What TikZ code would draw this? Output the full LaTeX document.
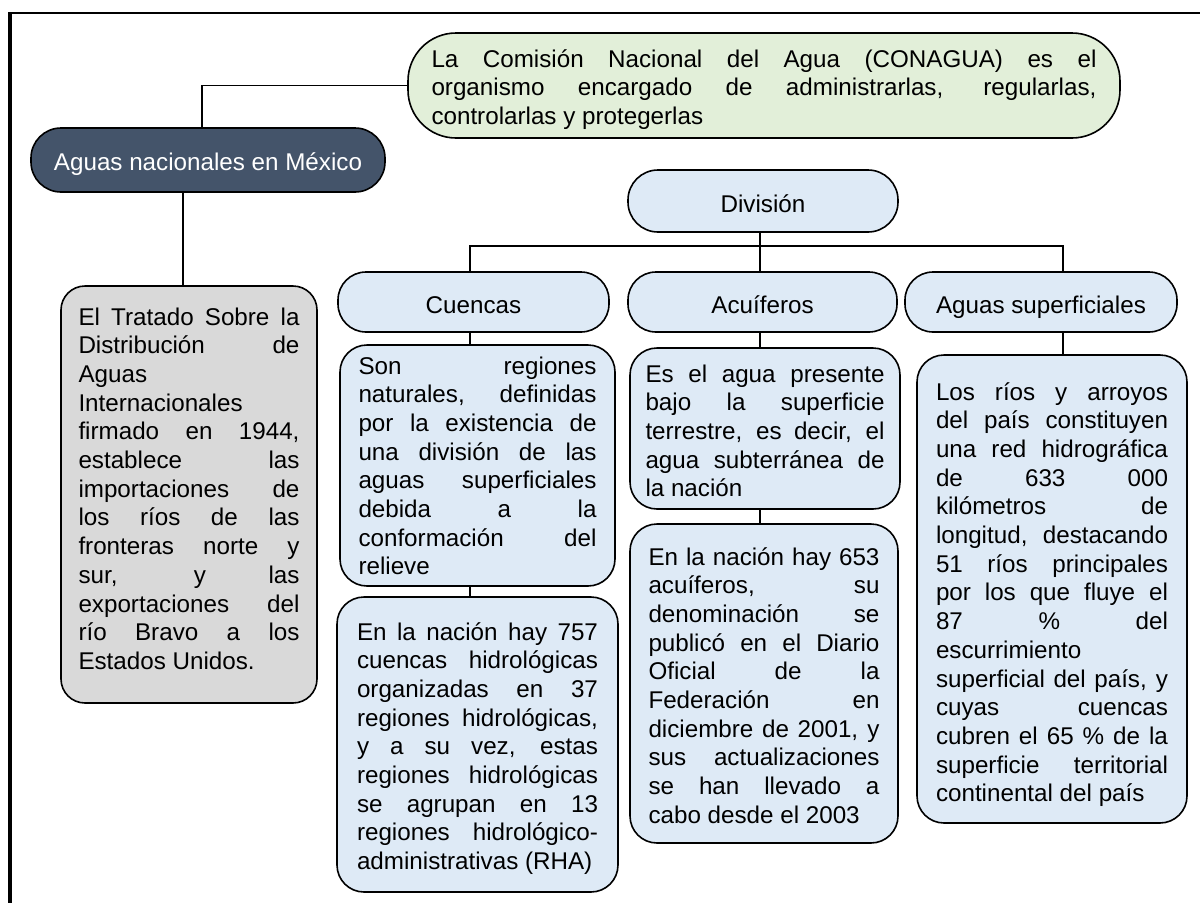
\documentclass[tikz,border=0pt]{standalone}
\usepackage{fontspec}
\setmainfont{Liberation Sans}
\definecolor{slate}{HTML}{44546A}
\definecolor{mint}{HTML}{E2EFD9}
\definecolor{sky}{HTML}{DEEAF6}
\definecolor{stone}{HTML}{D9D9D9}
\tolerance=10000
\hbadness=10000
\hyphenpenalty=10000

\begin{document}
\begin{tikzpicture}[x=1pt,y=-1pt,
        pill/.style={draw,line width=1.6pt,fill=sky,rounded corners=28pt,inner sep=0pt,minimum height=60pt,text height=22pt,text depth=0pt,font={\fontsize{24.2}{28.7}\selectfont}},
        card/.style={draw,line width=1.6pt,fill=sky,rounded corners=27pt,inner sep=0pt,align=justify,font={\fontsize{24.2}{28.7}\selectfont}},
        edge/.style={line width=1.6pt}
    ]
        \useasboundingbox (0,0) rectangle (1200,903);

        % Frame
        \draw[line width=3.5pt] (9.75,12) -- (9.75,903);
        \draw[line width=2pt] (8,13) -- (1200,13);

        % Define the nodes
        \node[card,fill=mint,rounded corners=48pt,minimum width=712pt,minimum height=105pt,text width=665pt,text height=25pt,text depth=62pt] (conagua) at (764,85.5) {La Comisión Nacional del Agua (CONAGUA) es el\linebreak organismo encargado de administrarlas, regularlas,\linebreak controlarlas y protegerlas};
        \node[pill,fill=slate,text=white,rounded corners=30pt,minimum width=354pt,minimum height=64pt,text height=20pt] (aguas) at (208,160) {Aguas nacionales en México};
        \node[card,fill=stone,rounded corners=24pt,minimum width=256pt,minimum height=417pt,text width=221pt,text height=5.4pt,text depth=344.4pt] (tratado) at (189,494.5) {El Tratado Sobre la\linebreak Distribución de\linebreak Aguas\linebreak Internacionales\linebreak firmado en 1944,\linebreak establece las\linebreak importaciones de\linebreak los ríos de las\linebreak fronteras norte y\linebreak sur, y las\linebreak exportaciones del\linebreak río Bravo a los\linebreak Estados Unidos.};

        \node[pill,rounded corners=30pt,minimum width=270pt,minimum height=62pt] (division) at (763,201) {División};
        \node[pill,minimum width=271pt] (cuencas) at (473.5,302) {Cuencas};
        \node[pill,minimum width=269pt] (acuiferos) at (762.5,302) {Acuíferos};
        \node[pill,minimum width=272pt] (superficiales) at (1041,302) {Aguas superficiales};

        \node[card,minimum width=275pt,minimum height=241pt,text width=238pt,text height=17.9pt,text depth=200.9pt] (cuencasA) at (477.5,465.5) {Son regiones\linebreak naturales, definidas\linebreak por la existencia de\linebreak una división de las\linebreak aguas superficiales\linebreak debida a la\linebreak conformación del\linebreak relieve};
        \node[card,minimum width=281pt,minimum height=295pt,text width=241pt,text height=20.6pt,text depth=229.6pt] (cuencasB) at (477.5,744.5) {En la nación hay 757\linebreak cuencas hidrológicas\linebreak organizadas en 37\linebreak regiones hidrológicas,\linebreak y a su vez, estas\linebreak regiones hidrológicas\linebreak se agrupan en 13\linebreak regiones hidrológico-\linebreak administrativas (RHA)};
        \node[card,minimum width=270pt,minimum height=161pt,text width=239pt,text height=21.8pt,text depth=114.8pt] (acuiferosA) at (765,428.5) {Es el agua presente\linebreak bajo la superficie\linebreak terrestre, es decir, el\linebreak agua subterránea de\linebreak la nación};
        \node[card,minimum width=268pt,minimum height=319pt,text width=231pt,text height=21.3pt,text depth=258.3pt] (acuiferosB) at (764,683.5) {En la nación hay 653\linebreak acuíferos, su\linebreak denominación se\linebreak publicó en el Diario\linebreak Oficial de la\linebreak Federación en\linebreak diciembre de 2001, y\linebreak sus actualizaciones\linebreak se han llevado a\linebreak cabo desde el 2003};
        \node[card,minimum width=270pt,minimum height=468pt,text width=232pt,text height=23.8pt,text depth=401.8pt] (superficialesA) at (1052,589) {Los ríos y arroyos\linebreak del país constituyen\linebreak una red hidrográfica\linebreak de 633 000\linebreak kilómetros de\linebreak longitud, destacando\linebreak 51 ríos principales\linebreak por los que fluye el\linebreak 87 \% del\linebreak escurrimiento\linebreak superficial del país, y\linebreak cuyas cuencas\linebreak cubren el 65 \% de la\linebreak superficie territorial\linebreak continental del país};

        % Draw the links
        \draw[edge] ([xshift=-6pt]aguas.north) |- (conagua.west);
        \draw[edge] ([xshift=-6pt]tratado.north) -- ([xshift=-6pt]tratado.north |- aguas.south);

        \coordinate (bus) at (763,246);
        \draw[edge] ([xshift=-2.5pt]acuiferos.north) -- ([xshift=-2.5pt]acuiferos.north |- division.south);
        \draw[edge] ([xshift=-3.5pt]cuencas.north) |- (bus) -| ([xshift=22pt]superficiales.north);

        \draw[edge] ([xshift=-3.5pt]cuencas.south) -- ([xshift=-3.5pt]cuencas.south |- cuencasA.north);
        \draw[edge] ([xshift=-7.5pt]cuencasA.south) -- ([xshift=-7.5pt]cuencasA.south |- cuencasB.north);
        \draw[edge] ([xshift=-2.5pt]acuiferos.south) -- ([xshift=-2.5pt]acuiferos.south |- acuiferosA.north);
        \draw[edge] ([xshift=-5pt]acuiferosA.south) -- ([xshift=-5pt]acuiferosA.south |- acuiferosB.north);
        \draw[edge] ([xshift=22pt]superficiales.south) -- ([xshift=22pt]superficiales.south |- superficialesA.north);
    \end{tikzpicture}
\end{document}
